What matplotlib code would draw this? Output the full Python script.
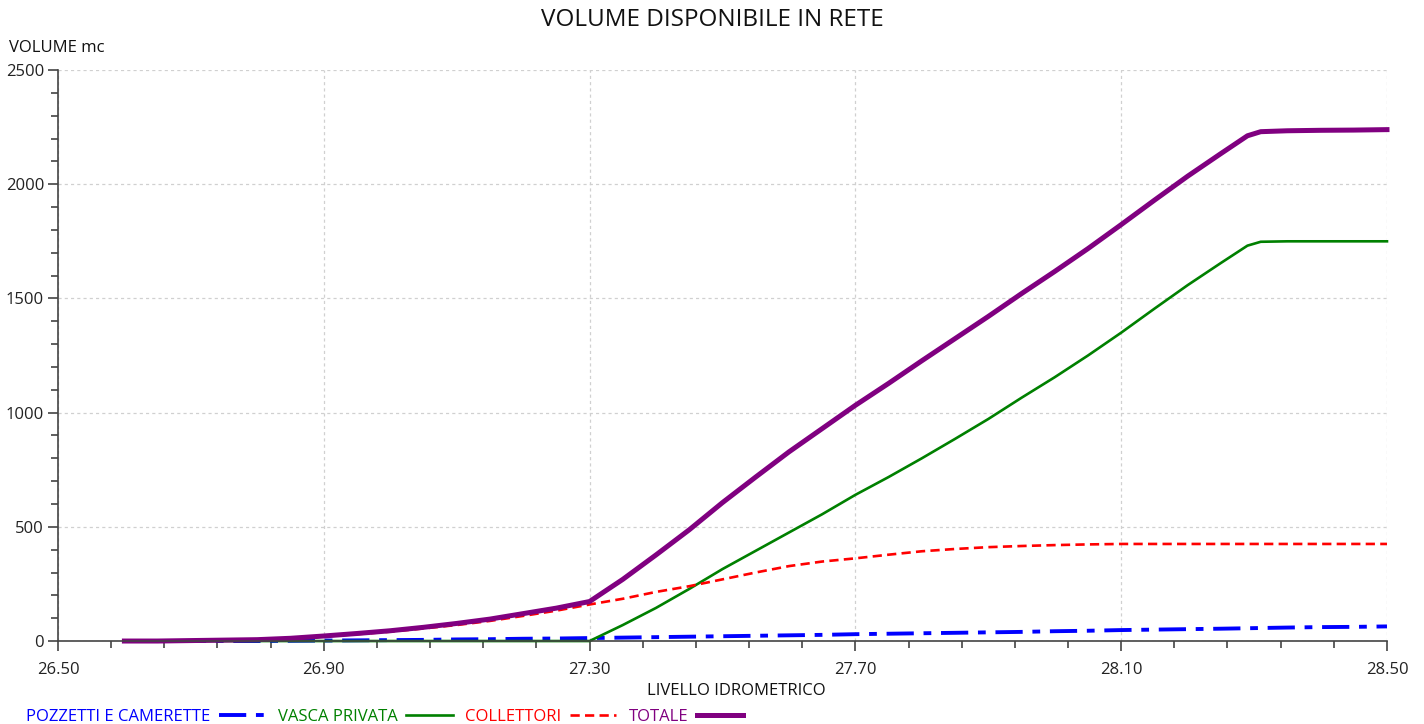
import matplotlib
matplotlib.use('Agg')
import matplotlib.pyplot as plt
from matplotlib.ticker import FixedLocator, FormatStrFormatter

plt.rcParams['font.family'] = ['Open Sans', 'DejaVu Sans']

# livello idrometrico (m)
livello = [26.60, 26.65, 26.70, 26.75, 26.80, 26.85, 26.90, 26.95, 27.00, 27.05,
           27.10, 27.15, 27.20, 27.25, 27.30, 27.35, 27.40, 27.45, 27.50, 27.55,
           27.60, 27.65, 27.70, 27.75, 27.80, 27.85, 27.90, 27.95, 28.00, 28.05,
           28.10, 28.15, 28.20, 28.25, 28.29, 28.31, 28.35, 28.40, 28.45, 28.50]

# volumi (mc)
pozzetti = [0, 0, 0, 0, 0, 1, 2, 3, 4, 5,
            7, 8, 10, 11, 13, 15, 17, 19, 21, 23,
            25, 27, 30, 32, 34, 36, 38, 40, 43, 45,
            48, 50, 52, 54, 56, 57, 59, 61, 62, 64]
vasca = [0, 0, 0, 0, 0, 0, 0, 0, 0, 0,
         0, 0, 0, 0, 0, 70, 145, 228, 315, 395,
         475, 555, 640, 718, 800, 885, 972, 1065, 1155, 1250,
         1350, 1455, 1558, 1655, 1731, 1748, 1750, 1750, 1750, 1750]
collettori = [0, 0, 2, 4, 6, 11, 20, 30, 41, 55,
              70, 88, 110, 133, 160, 185, 215, 240, 270, 300,
              328, 348, 362, 378, 393, 403, 411, 416, 420, 423,
              425, 425, 425, 425, 425, 425, 425, 425, 425, 425]
totale = [0, 0, 2, 4, 6, 12, 22, 33, 45, 60,
          77, 96, 120, 144, 173, 270, 377, 487, 606, 718,
          828, 930, 1032, 1128, 1227, 1324, 1421, 1521, 1618, 1718,
          1823, 1930, 2035, 2134, 2212, 2230, 2234, 2236, 2237, 2239]

# assi
x_major = [26.50, 26.90, 27.30, 27.70, 28.10, 28.50]
x_minor = [26.58, 26.66, 26.74, 26.82, 26.98, 27.06, 27.14, 27.22,
           27.38, 27.46, 27.54, 27.62, 27.78, 27.86, 27.94, 28.02,
           28.18, 28.26, 28.34, 28.42]
y_major = [0, 500, 1000, 1500, 2000, 2500]
y_minor = [100, 200, 300, 400, 600, 700, 800, 900, 1100, 1200, 1300, 1400,
           1600, 1700, 1800, 1900, 2100, 2200, 2300, 2400]

fig = plt.figure(figsize=(14.24, 7.24), dpi=100)
ax = fig.add_axes([0.0407, 0.1146, 0.9333, 0.7887])

ax.plot(livello, pozzetti, color='#0000ff', lw=2.8, dashes=(7, 2.5, 2, 2.5),
        label='POZZETTI E CAMERETTE', clip_on=False)
ax.plot(livello, vasca, color='#008000', lw=1.9, label='VASCA PRIVATA', clip_on=False)
ax.plot(livello, collettori, color='#ff0000', lw=1.9, dashes=(3.5, 2),
        label='COLLETTORI', clip_on=False)
ax.plot(livello, totale, color='#800080', lw=3.6, label='TOTALE', clip_on=False)

ax.set_xlim(26.5, 28.5)
ax.set_ylim(0, 2500)
ax.xaxis.set_major_locator(FixedLocator(x_major))
ax.xaxis.set_minor_locator(FixedLocator(x_minor))
ax.xaxis.set_major_formatter(FormatStrFormatter('%.2f'))
ax.yaxis.set_major_locator(FixedLocator(y_major))
ax.yaxis.set_minor_locator(FixedLocator(y_minor))

ax.grid(True, which='major', color='#d0d0d0', lw=0.9, dashes=(2.5, 2.5))
ax.set_axisbelow(True)

for s in ['top', 'right']:
    ax.spines[s].set_visible(False)
for s in ['left', 'bottom']:
    ax.spines[s].set_color('#444444')
    ax.spines[s].set_linewidth(1.2)

ax.tick_params(which='major', length=7, width=1.2, color='#444444',
               labelsize=12, labelcolor='#222222')
ax.tick_params(which='minor', length=5, width=1.2, color='#444444')
ax.tick_params(axis='x', which='major', pad=8)
ax.tick_params(axis='y', which='major', pad=3)

fig.text(0.5, 0.972, 'VOLUME DISPONIBILE IN RETE', ha='center', va='center',
         fontsize=17.5, color='#111111')
fig.text(0.006, 0.934, 'VOLUME mc', ha='left', va='center', fontsize=12, color='#111111')
fig.text(0.517, 0.045, 'LIVELLO IDROMETRICO', ha='center', va='center',
         fontsize=12, color='#111111')

leg = ax.legend(loc='lower left', bbox_to_anchor=(0.016, -0.006),
                bbox_transform=fig.transFigure, ncol=4, frameon=False,
                markerfirst=False, handlelength=2.8, handletextpad=0.5,
                columnspacing=0.75, fontsize=12,
                labelcolor=['#0000ff', '#008000', '#ff0000', '#800080'],
                borderaxespad=0, borderpad=0.2)

fig.savefig('out.png', dpi=100)
